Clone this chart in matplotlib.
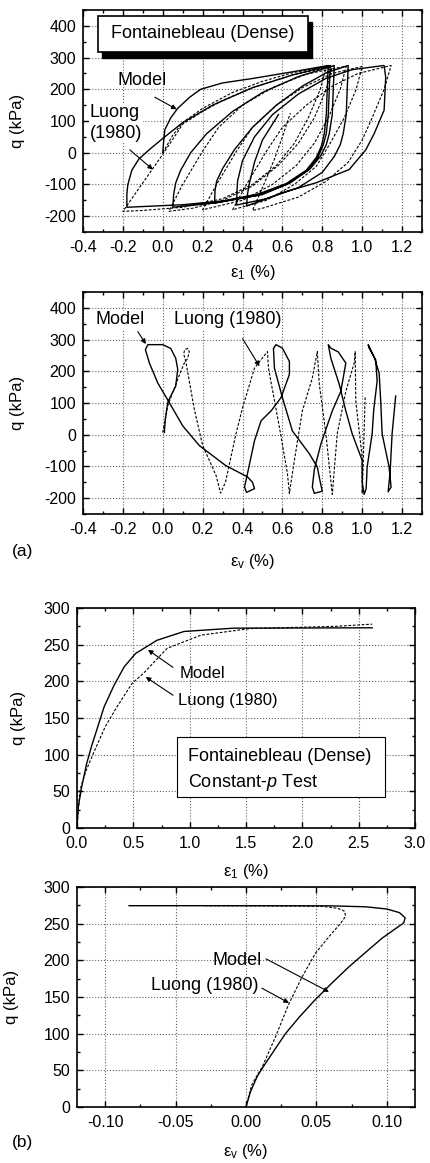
import matplotlib
matplotlib.use('Agg')
import matplotlib.pyplot as plt
from matplotlib.ticker import MultipleLocator
from matplotlib.patches import Rectangle

plt.rcParams['font.family'] = ['Liberation Sans', 'DejaVu Sans']
plt.rcParams['mathtext.fontset'] = 'custom'
plt.rcParams['mathtext.rm'] = 'Liberation Sans'
plt.rcParams['mathtext.it'] = 'Liberation Sans:italic'

# ---- (a) cyclic test, q vs eps1 ----
model_a1_x = [0, 0.005, 0.01, 0.04, 0.075, 0.135, 0.19, 0.3, 0.45, 0.65, 0.83,
              0.825, 0.82, 0.81, 0.795, 0.77, 0.72, 0.62, 0.48, 0.3, 0.1, -0.18,
              -0.18, -0.175, -0.155, -0.12, -0.067, 0.0, 0.1, 0.25, 0.45, 0.65, 0.84,
              0.835, 0.83, 0.82, 0.805, 0.78, 0.73, 0.62, 0.47, 0.27, 0.05,
              0.055, 0.065, 0.09, 0.14, 0.22, 0.35, 0.5, 0.68, 0.86,
              0.855, 0.85, 0.835, 0.82, 0.79, 0.74, 0.64, 0.5, 0.26,
              0.262, 0.27, 0.3, 0.36, 0.45, 0.57, 0.7, 0.82, 0.93,
              0.925, 0.92, 0.905, 0.89, 0.86, 0.8, 0.68, 0.52, 0.37,
              0.372, 0.375, 0.4, 0.46, 0.55, 0.68, 0.82, 0.95, 1.11,
              1.118, 1.11, 1.06, 1.018, 0.935, 0.768, 0.6, 0.5, 0.42,
              0.425, 0.435, 0.46, 0.5, 0.58]
model_a1_y = [0, 40, 72, 110, 140, 175, 200, 220, 234, 255, 275,
              200, 120, 60, 20, -15, -55, -97, -130, -152, -164, -172,
              -130, -100, -55, -20, 10, 45, 95, 150, 205, 245, 275,
              200, 120, 60, 25, -12, -55, -100, -135, -158, -172,
              -130, -95, -55, 0, 60, 130, 190, 240, 275,
              200, 120, 60, 25, -12, -50, -95, -132, -158,
              -120, -90, -50, 10, 80, 150, 210, 252, 275,
              200, 120, 60, 25, -12, -62, -110, -145, -165,
              -125, -90, -25, 50, 120, 185, 235, 262, 275,
              238, 134, 60, 9, -53, -95, -126, -150, -168,
              -130, -95, -30, 40, 120]

luong_a1_x = [0, 0.05, 0.1, 0.2, 0.35, 0.5, 0.65, 0.82,
              0.79, 0.73, 0.66, 0.57, 0.45, 0.3, 0.1, -0.1, -0.2,
              -0.1, 0.0, 0.1, 0.2, 0.3, 0.45, 0.65, 0.85,
              0.82, 0.76, 0.68, 0.58, 0.45, 0.3, 0.15, 0.03,
              0.1, 0.2, 0.28, 0.4, 0.55, 0.72, 0.92,
              0.89, 0.83, 0.76, 0.67, 0.55, 0.4, 0.2,
              0.27, 0.37, 0.45, 0.57, 0.7, 0.85, 1.0,
              0.97, 0.91, 0.84, 0.77, 0.66, 0.52, 0.35,
              0.42, 0.52, 0.6, 0.72, 0.85, 0.98, 1.145,
              1.11, 1.05, 1.0, 0.93, 0.82, 0.68, 0.5, 0.45,
              0.5, 0.56, 0.6, 0.64]
luong_a1_y = [0, 55, 95, 140, 190, 225, 252, 272,
              200, 110, 30, -40, -100, -145, -172, -182, -185,
              -95, -5, 90, 130, 165, 205, 245, 272,
              200, 110, 30, -40, -105, -150, -175, -185,
              -100, 5, 80, 150, 205, 248, 273,
              200, 110, 30, -40, -100, -150, -180,
              -100, 5, 80, 150, 205, 250, 272,
              200, 110, 30, -43, -100, -150, -180,
              -100, 5, 80, 150, 210, 250, 275,
              200, 110, 40, -30, -90, -140, -175, -182,
              -110, -20, 50, 125]

# ---- (a) cyclic test, q vs eps_v ----
model_a2_x = [0.008, 0.013, 0.025, 0.04, 0.065, 0.075, 0.065, 0.04, 0.0, -0.075,
              -0.087, -0.067, -0.025, 0.033, 0.1, 0.183, 0.315, 0.425, 0.45, 0.46, 0.42,
              0.41, 0.425, 0.46, 0.493, 0.543, 0.593, 0.635, 0.635, 0.6, 0.568,
              0.555, 0.56, 0.6, 0.65, 0.735, 0.775, 0.79, 0.8, 0.76,
              0.75, 0.76, 0.793, 0.85, 0.893, 0.918, 0.88, 0.843, 0.83,
              0.843, 0.885, 0.918, 0.95, 1.0, 1.0, 1.01, 1.02,
              1.025, 1.05, 1.058, 1.075, 1.068, 1.035, 1.03,
              1.06, 1.085, 1.093, 1.1, 1.135, 1.145, 1.13,
              1.14, 1.15, 1.168]
model_a2_y = [7, 50, 101, 122, 153, 206, 241, 272, 284, 284,
              268, 226, 163, 101, 28, -34, -97, -133, -150, -170, -182,
              -165, -122, -19, 44, 75, 117, 190, 231, 273, 284,
              272, 210, 117, 12, -60, -102, -150, -178, -185,
              -165, -110, -29, 75, 137, 226, 261, 273, 284,
              241, 159, 75, 3, -81, -150, -188, -170,
              -102, 3, 79, 169, 236, 273, 284,
              245, 195, 106, 3, -102, -165, -180,
              -120, 3, 122]

luong_a2_x = [0.0, 0.025, 0.075, 0.108, 0.125, 0.133, 0.125, 0.11, 0.105,
              0.117, 0.158, 0.2, 0.267, 0.29,
              0.315, 0.365, 0.4, 0.46, 0.525,
              0.53, 0.585, 0.625, 0.635,
              0.66, 0.7, 0.75, 0.775,
              0.785, 0.818, 0.85,
              0.875, 0.918, 0.96, 0.965,
              0.968, 1.0, 1.0,
              1.005, 1.01, 1.015]
luong_a2_y = [7, 91, 175, 226, 241, 262, 272, 268, 255,
              226, 81, -34, -128, -184,
              -149, -3, 85, 210, 262,
              210, 23, -122, -185,
              -81, 75, 179, 262,
              159, 3, -188,
              3, 137, 226, 262,
              106, -71, -185,
              -100, 20, 120]

# ---- (b) constant-p test ----
model_b1_x = [0, 0.005, 0.012, 0.04, 0.086, 0.13, 0.176, 0.24, 0.33, 0.42, 0.52,
              0.71, 0.95, 1.39, 2.62]
model_b1_y = [0, 15, 29, 55, 88, 112, 134, 165, 195, 220, 238,
              256, 268, 272.5, 273]
luong_b1_x = [0, 0.01, 0.027, 0.08, 0.146, 0.25, 0.354, 0.488, 0.59, 0.8, 1.1,
              1.54, 2.3, 2.62]
luong_b1_y = [0, 22, 52, 78, 102, 138, 165, 197, 211, 245, 263,
              272, 275, 278]

model_b2_x = [0.0, 0.003, 0.008, 0.014, 0.021, 0.028, 0.038, 0.049, 0.061, 0.073,
              0.085, 0.0965, 0.106, 0.112, 0.113, 0.109, 0.1, 0.085, 0.06, 0.0,
              -0.083]
model_b2_y = [0, 20, 42, 60, 80, 100, 123, 146, 169, 191,
              211, 230, 243, 251, 258, 265, 270, 273, 274.3, 274.5,
              274.5]
luong_b2_x = [0.0, 0.004, 0.0116, 0.021, 0.0305, 0.04, 0.0494, 0.061, 0.067,
              0.0707, 0.07, 0.065, 0.055, 0.04, -0.03]
luong_b2_y = [0, 30, 55, 96, 141, 178, 210, 237, 250,
              260, 267, 271, 273.5, 274, 274.5]

W, H = 430, 1163
fig = plt.figure(figsize=(W / 100, H / 100), dpi=100)


def rect(l, t, r, b):
    return [l / W, 1 - b / H, (r - l) / W, (b - t) / H]


ax1 = fig.add_axes(rect(83, 10, 422, 232))
ax2 = fig.add_axes(rect(83, 292, 422, 514))
ax3 = fig.add_axes(rect(77, 608, 415, 828))
ax4 = fig.add_axes(rect(77, 887, 415, 1107))

solid = dict(color='black', lw=1.0)
dash = dict(color='black', lw=0.8, linestyle=(0, (2.5, 1.5)))
arrow = dict(arrowstyle='-|>', color='black', lw=0.8, mutation_scale=7, shrinkA=0, shrinkB=0)


def style(ax, xmaj, xmin, ymaj, ymin):
    ax.xaxis.set_major_locator(MultipleLocator(xmaj))
    ax.xaxis.set_minor_locator(MultipleLocator(xmin))
    ax.yaxis.set_major_locator(MultipleLocator(ymaj))
    ax.yaxis.set_minor_locator(MultipleLocator(ymin))
    ax.tick_params(which='both', direction='in', top=True, right=True, labelsize=11.5, width=1)
    ax.tick_params(which='major', length=4)
    ax.tick_params(which='minor', length=2)
    ax.tick_params(axis='x', pad=6)
    ax.tick_params(axis='y', pad=5)
    ax.grid(True, linestyle=':', color='#666666', lw=0.8)
    for s in ax.spines.values():
        s.set_linewidth(1.2)


eps_ticks = [-0.4, -0.2, 0.0, 0.2, 0.4, 0.6, 0.8, 1.0, 1.2]
eps_labels = ['-0.4', '-0.2', '0.0', '0.2', '0.4', '0.6', '0.8', '1.0', '1.2']
q_ticks = [-200, -100, 0, 100, 200, 300, 400]
q_labels = ['-200', '-100', '0', '100', '200', '300', '400']

# panel 1
ax1.plot(model_a1_x, model_a1_y, **solid)
ax1.plot(luong_a1_x, luong_a1_y, **dash)
ax1.set_xlim(-0.4, 1.3)
ax1.set_ylim(-250, 450)
style(ax1, 0.2, 0.1, 100, 50)
ax1.set_xticks(eps_ticks)
ax1.set_xticklabels(eps_labels)
ax1.set_yticks(q_ticks)
ax1.set_yticklabels(q_labels)
ax1.set_ylabel('q (kPa)', fontsize=12)
ax1.yaxis.set_label_coords(-0.171, 0.5)
ax1.set_xlabel(r'ε$_1$ (%)', fontsize=12)
ax1.xaxis.set_label_coords(0.5, -0.14)
ax1.add_patch(Rectangle((0.055, 0.784), 0.62, 0.162, transform=ax1.transAxes,
                        facecolor='black', edgecolor='black', zorder=5))
ax1.add_patch(Rectangle((0.044, 0.811), 0.62, 0.162, transform=ax1.transAxes,
                        facecolor='white', edgecolor='black', lw=1.2, zorder=6))
ax1.text(0.354, 0.892, 'Fontainebleau (Dense)', transform=ax1.transAxes,
         ha='center', va='center', fontsize=13, zorder=7)
ax1.text(-0.105, 228, 'Model', ha='center', va='center', fontsize=13)
ax1.annotate('', xy=(0.07, 137), xytext=(-0.04, 175), arrowprops=arrow)
ax1.text(-0.365, 94, 'Luong\n(1980)', ha='left', va='center', fontsize=13, linespacing=1.25,
         bbox=dict(facecolor='white', edgecolor='none', pad=0.5))
ax1.annotate('', xy=(-0.05, -53), xytext=(-0.165, 9), arrowprops=arrow)

# panel 2
ax2.plot(model_a2_x, model_a2_y, **solid)
ax2.plot(luong_a2_x, luong_a2_y, **dash)
ax2.set_xlim(-0.4, 1.3)
ax2.set_ylim(-250, 450)
style(ax2, 0.2, 0.1, 100, 50)
ax2.set_xticks(eps_ticks)
ax2.set_xticklabels(eps_labels)
ax2.set_yticks(q_ticks)
ax2.set_yticklabels(q_labels)
ax2.set_ylabel('q (kPa)', fontsize=12)
ax2.yaxis.set_label_coords(-0.171, 0.5)
ax2.set_xlabel(r'ε$_\mathrm{v}$ (%)', fontsize=12)
ax2.xaxis.set_label_coords(0.5, -0.171)
ax2.text(-0.215, 362, 'Model', ha='center', va='center', fontsize=13,
         bbox=dict(facecolor='white', edgecolor='none', pad=0.5))
ax2.annotate('', xy=(-0.085, 286), xytext=(-0.125, 325), arrowprops=arrow)
ax2.text(0.325, 362, 'Luong (1980)', ha='center', va='center', fontsize=13,
         bbox=dict(facecolor='white', edgecolor='none', pad=0.5))
ax2.annotate('', xy=(0.485, 216), xytext=(0.4, 303), arrowprops=arrow)

# panel 3
ax3.plot(model_b1_x, model_b1_y, **solid)
ax3.plot(luong_b1_x, luong_b1_y, **dash)
ax3.set_xlim(0, 3)
ax3.set_ylim(0, 300)
style(ax3, 0.5, 0.25, 50, 25)
ax3.set_ylabel('q (kPa)', fontsize=12)
ax3.yaxis.set_label_coords(-0.151, 0.5)
ax3.set_xlabel(r'ε$_1$ (%)', fontsize=12)
ax3.xaxis.set_label_coords(0.5, -0.155)
ax3.add_patch(Rectangle((0.296, 0.141), 0.615, 0.273, transform=ax3.transAxes,
                        facecolor='white', edgecolor='black', lw=0.8, zorder=5))
ax3.text(0.328, 0.323, 'Fontainebleau (Dense)', transform=ax3.transAxes,
         ha='left', va='center', fontsize=13, zorder=6)
ax3.text(0.328, 0.209, 'Constant-$p$ Test', transform=ax3.transAxes,
         ha='left', va='center', fontsize=13, zorder=6)
ax3.text(0.914, 211, 'Model', ha='left', va='center', fontsize=12)
ax3.annotate('', xy=(0.63, 243), xytext=(0.852, 219), arrowprops=arrow)
ax3.text(0.896, 174.5, 'Luong (1980)', ha='left', va='center', fontsize=12)
ax3.annotate('', xy=(0.61, 206), xytext=(0.852, 181), arrowprops=arrow)

# panel 4
ax4.plot(model_b2_x, model_b2_y, **solid)
ax4.plot(luong_b2_x, luong_b2_y, **dash)
ax4.set_xlim(-0.12, 0.12)
ax4.set_ylim(0, 300)
style(ax4, 0.05, 0.025, 50, 25)
ax4.set_xticks([-0.10, -0.05, 0.0, 0.05, 0.10])
ax4.set_xticklabels(['-0.10', '-0.05', '0.00', '0.05', '0.10'])
ax4.set_ylabel('q (kPa)', fontsize=12)
ax4.yaxis.set_label_coords(-0.172, 0.5)
ax4.set_xlabel(r'ε$_\mathrm{v}$ (%)', fontsize=12)
ax4.xaxis.set_label_coords(0.5, -0.159)
ax4.text(-0.0241, 200, 'Model', ha='left', va='center', fontsize=13)
ax4.annotate('', xy=(0.0589, 157), xytext=(0.0142, 202), arrowprops=arrow)
ax4.text(-0.0674, 166, 'Luong (1980)', ha='left', va='center', fontsize=13)
ax4.annotate('', xy=(0.0305, 142), xytext=(0.0113, 162), arrowprops=arrow)

fig.text(12 / W, 1 - 552 / H, '(a)', ha='left', va='center', fontsize=12.5)
fig.text(12 / W, 1 - 1142 / H, '(b)', ha='left', va='center', fontsize=12.5)

fig.savefig('out.png', dpi=100)
